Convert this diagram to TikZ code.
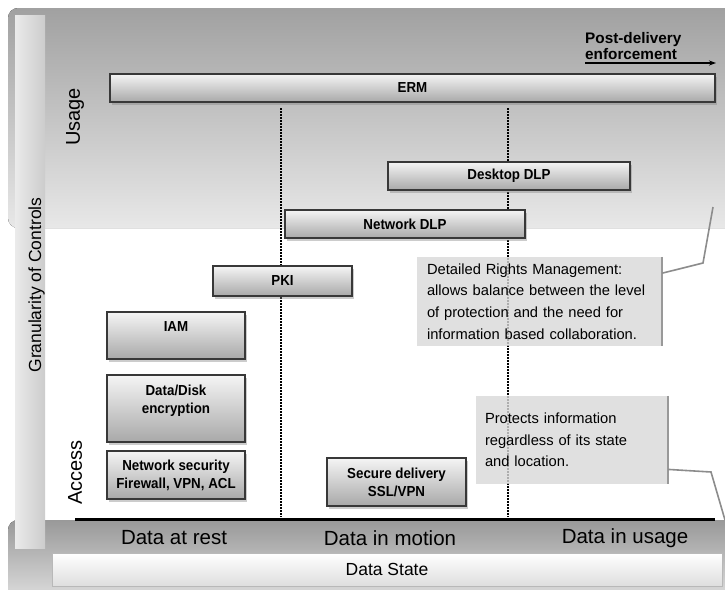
\documentclass[tikz,border=0pt]{standalone}
\usepackage{fontspec}
\setmainfont{Liberation Sans}
\setsansfont{Liberation Sans}
\newfontfamily\boxfont[FakeStretch=0.92]{Liberation Sans}
\usetikzlibrary{arrows.meta, positioning, shadows}

\begin{document}
\begin{tikzpicture}[
    x=1pt, y=-1pt,
    every node/.style={font=\fontsize{13.5}{18}\selectfont},
    ctrl/.style={rectangle, draw=black!78, line width=1.3pt, top color=black!4, bottom color=black!34, align=center, inner sep=0pt, font=\boxfont\bfseries\fontsize{14.5}{18}\selectfont, drop shadow={shadow xshift=2pt, shadow yshift=-2.5pt, opacity=0.4}},
    note/.style={rectangle, fill=black!15, fill opacity=0.8, text opacity=1, align=left, inner ysep=0pt, font=\fontsize{14.7}{21.7}\selectfont},
    noteedge/.style={draw=black!40, line width=2pt},
    callline/.style={draw=black!45, line width=1.6pt},
    axislabel/.style={font=\fontsize{20}{24}\selectfont, rotate=90, inner sep=0pt},
    statelabel/.style={font=\fontsize{20.5}{24}\selectfont, inner sep=0pt},
    statebar/.style={rectangle, draw=black!28, line width=0.8pt, top color=white, bottom color=black!13, minimum width=670pt, minimum height=33pt, inner sep=0pt, font=\fontsize{17.5}{20}\selectfont},
    guide/.style={line width=1.8pt, dash pattern=on 1.8pt off 1.2pt},
    arrow/.style={-{Stealth[length=7pt, width=5pt]}, line width=1.2pt}
]
\useasboundingbox (0,0) rectangle (725,589);
\clip (0,0) rectangle (725,589);
\fill[white] (0,0) rectangle (725,589);

% ============ BACKGROUND ============
\fill[rounded corners=10pt, top color=black!37, middle color=black!24, bottom color=black!9] (8,8) rectangle (745,228);
\fill[rounded corners=10pt, top color=black!40, middle color=black!36, bottom color=black!13] (8,520) rectangle (745,600);

% Granularity bar
\fill[left color=black!8, middle color=white, right color=black!20] (15,15) rectangle (45,548);
\node[axislabel, font=\fontsize{17.5}{20}\selectfont] (gran) at (36.5,285) {Granularity of Controls};

% Axis labels
\node[axislabel] (usage) at (75,117) {Usage};
\node[axislabel] (access) at (75,472.5) {Access};

% ============ GUIDES ============
\draw[guide] (281,108) -- (281,517);
\draw[guide] (508,108) -- (508,517);
\draw[line width=3pt] (75,519) -- (715,519);

% ============ DATA STATE ============
\node[statelabel] (rest) at (174,538) {Data at rest};
\node[statelabel] (motion) at (390,538) {Data in motion};
\node[statelabel] (inuse) at (625,538) {Data in usage};
\node[statebar] (state) at (387,569.5) {Data State};

% ============ CONTROLS ============
\node[ctrl, minimum width=605pt, minimum height=28pt] (erm) at (412.5,88) {ERM};
\node[ctrl, minimum width=242pt, minimum height=28pt] (ddlp) at (509,176) {Desktop DLP};
\node[ctrl, minimum width=240pt, minimum height=28pt] (ndlp) at (405,224) {Network DLP};
\node[ctrl, minimum width=139pt, minimum height=30pt] (pki) at (282.5,281) {PKI};
\node[ctrl, minimum width=138pt, minimum height=47pt] (iam) at (176,335.5) {IAM\\\mbox{}};
\node[ctrl, minimum width=138pt, minimum height=67pt] (disk) at (176,408.5) {Data/Disk\\encryption\\\mbox{}};
\node[ctrl, minimum width=138pt, minimum height=48pt] (netsec) at (176,475) {Network security\\Firewall, VPN, ACL};
\node[ctrl, minimum width=139pt, minimum height=48pt] (secdel) at (396.5,482) {Secure delivery\\SSL/VPN};

% ============ CALLOUTS ============
\node[note, minimum width=245pt, minimum height=89pt, inner xsep=10pt, text width=225pt] (drm) at (539.5,301.5) {Detailed Rights Management:\\allows balance between the level\\of protection and the need for\\information based collaboration.};
\draw[noteedge] (drm.north east) -- (drm.south east);

\node[note, minimum width=192pt, minimum height=88pt, inner xsep=9pt, text width=174pt] (prot) at (572,440) {Protects information\\regardless of its state\\and location.};
\draw[noteedge] (prot.north east) -- (prot.south east);

\coordinate (drmbend) at (703,263);
\coordinate (drmend) at (713,207);
\draw[callline] (drm.13) -- (drmbend) -- (drmend);

\coordinate (protbend) at (711,472);
\coordinate (protend) at (725,520);
\draw[callline] (prot.-17) -- (protbend) -- (protend);

% ============ POST-DELIVERY ============
\node[align=left, anchor=north west, inner sep=0pt, font=\bfseries\fontsize{15.3}{16}\selectfont] (post) at (585,32) {Post-delivery\\enforcement};
\coordinate (posttip) at (716,63);
\draw[arrow] (post.west |- posttip) -- (posttip);

\end{tikzpicture}
\end{document}
